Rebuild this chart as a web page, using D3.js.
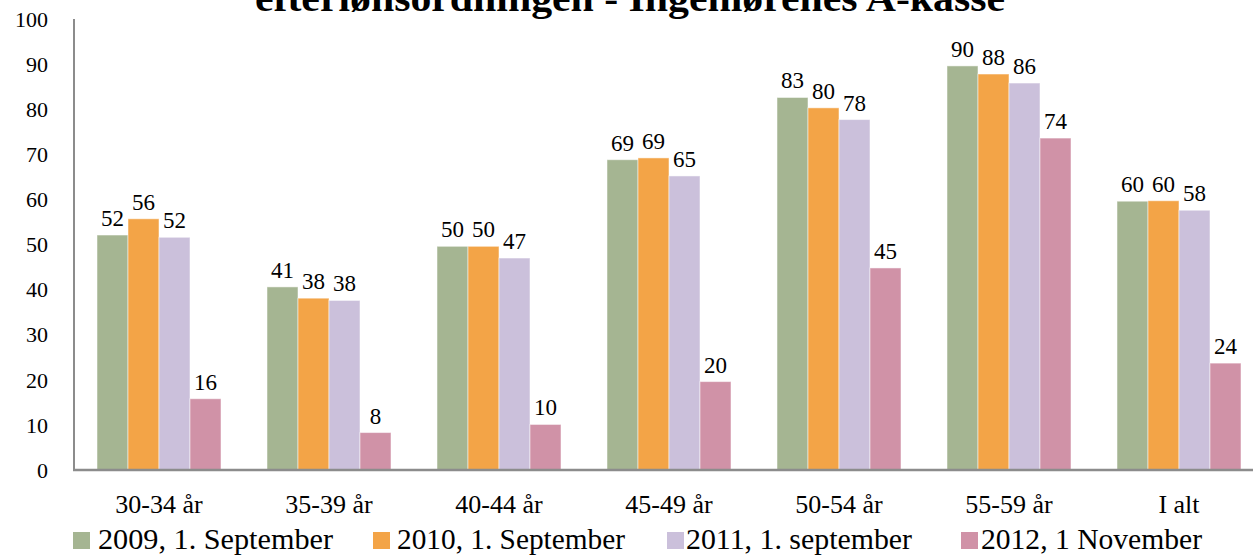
<!DOCTYPE html>
<html><head><meta charset="utf-8">
<script src="https://cdn.jsdelivr.net/npm/d3@7"></script>
<style>
html,body{margin:0;padding:0;background:#fff;}
svg{display:block;font-family:"Liberation Serif","DejaVu Serif",serif;}
</style></head>
<body>
<svg id="c" width="1253" height="556"></svg>
<script>
const title = "efterlønsordningen - Ingeniørenes A-kasse";
const categories = ["30-34 år","35-39 år","40-44 år","45-49 år","50-54 år","55-59 år","I alt"];
const seriesNames = ["2009, 1. September","2010, 1. September","2011, 1. september","2012, 1 November"];
const colors = ["#A5B592","#F3A447","#CBC0DB","#D092A7"];
const s2009 = [52.1, 40.6, 49.6, 68.8, 82.6, 89.6, 59.6];
const s2010 = [55.7, 38.1, 49.6, 69.2, 80.3, 87.8, 59.7];
const s2011 = [51.6, 37.6, 47.0, 65.2, 77.7, 85.8, 57.6];
const s2012 = [15.8, 8.3, 10.1, 19.6, 44.8, 73.6, 23.7];
const yTicks = [0,10,20,30,40,50,60,70,80,90,100];

const series = [s2009, s2010, s2011, s2012];
const svg = d3.select("#c");
const m = {left:74, top:19, bottom:470};
const x0 = d3.scaleBand().domain(categories).range([m.left, m.left + 170*7]).paddingInner(0.2706).paddingOuter(0.1353);
const x1 = d3.scaleBand().domain(d3.range(4)).range([0, x0.bandwidth()]);
const y = d3.scaleLinear().domain([0,100]).range([m.bottom, m.top]);

// title (cut off at the top, as in the reference)
svg.append("text").attr("x", 630).attr("y", 11).attr("text-anchor","middle")
  .attr("font-weight","bold").attr("font-size", 38).attr("fill","#000")
  .attr("textLength", 750).attr("lengthAdjust","spacingAndGlyphs").text(title);

// y tick labels
svg.append("g").selectAll("text").data(yTicks).join("text")
  .attr("x", 48).attr("y", d => y(d)).attr("dy","0.35em").attr("text-anchor","end")
  .attr("font-size", 22).attr("fill","#000").text(d => d);

// bars
const g = svg.append("g").selectAll("g").data(categories).join("g")
  .attr("transform", d => `translate(${x0(d)},0)`);
g.selectAll("rect").data((d,i) => series.map((s,k) => ({k, v:s[i]}))).join("rect")
  .attr("x", d => x1(d.k)).attr("width", x1.bandwidth())
  .attr("y", d => y(d.v)).attr("height", d => y(0) - y(d.v))
  .attr("fill", d => colors[d.k]).attr("stroke", "#fff").attr("stroke-opacity",0.5).attr("stroke-width", 1);
g.selectAll("text").data((d,i) => series.map((s,k) => ({k, v:s[i]}))).join("text")
  .attr("x", d => x1(d.k) + x1.bandwidth()/2).attr("y", d => y(d.v) - 9)
  .attr("text-anchor","middle").attr("font-size", 23).attr("fill","#000")
  .text(d => Math.round(d.v));

// axes lines
svg.append("line").attr("x1", m.left).attr("x2", m.left).attr("y1", y(100)).attr("y2", y(0))
  .attr("stroke","#8c8c8c").attr("stroke-width",2);
svg.append("line").attr("x1", m.left-1).attr("x2", 1253).attr("y1", y(0)).attr("y2", y(0))
  .attr("stroke","#8c8c8c").attr("stroke-width",2.5);

// category labels
svg.append("g").selectAll("text").data(categories).join("text")
  .attr("x", d => x0(d) + x0.bandwidth()/2).attr("y", 513).attr("text-anchor","middle")
  .attr("font-size", 26).attr("fill","#000").text(d => d);

// legend
const legSquareX = [73, 373, 667, 961];
const legTextX = [98, 397, 686, 981];
const legTextW = [235, 228, 226, 221];
const lg = svg.append("g").selectAll("g").data(seriesNames).join("g");
lg.append("rect").attr("x", (d,i) => legSquareX[i]).attr("y", 532)
  .attr("width",17).attr("height",17).attr("fill", (d,i) => colors[i]);
lg.append("text").attr("x", (d,i) => legTextX[i]).attr("y", 549).attr("font-size", 29).attr("fill","#000")
  .attr("textLength", (d,i) => legTextW[i]).attr("lengthAdjust","spacingAndGlyphs").text(d => d);
</script>
</body></html>
